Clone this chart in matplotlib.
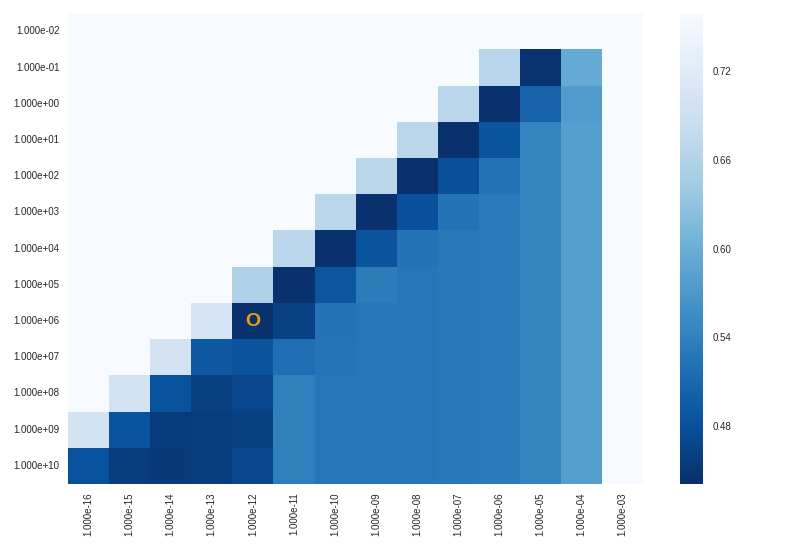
"""Heatmap of score over the two regularisation grids, Blues_r with a marker on the best cell."""

import numpy as np
import seaborn as sns
from matplotlib import pyplot as plt

row_labels = [f"{10.0 ** e:.3e}" for e in range(-2, 11)]
col_labels = [f"{10.0 ** e:.3e}" for e in range(-16, -2)]

# light cells sit at the top of the colour scale
M = 0.759
scores = [
    [M, M, M, M, M, M, M, M, M, M, M, M, M, M],
    [M, M, M, M, M, M, M, M, M, M, 0.664, 0.445, 0.594, M],
    [M, M, M, M, M, M, M, M, M, 0.667, 0.443, 0.505, 0.575, M],
    [M, M, M, M, M, M, M, M, 0.667, 0.443, 0.486, 0.543, 0.578, M],
    [M, M, M, M, M, M, M, 0.667, 0.443, 0.479, 0.524, 0.543, 0.578, M],
    [M, M, M, M, M, M, 0.667, 0.443, 0.480, 0.524, 0.531, 0.543, 0.578, M],
    [M, M, M, M, M, 0.667, 0.443, 0.485, 0.524, 0.530, 0.532, 0.543, 0.578, M],
    [M, M, M, M, 0.656, 0.443, 0.487, 0.533, 0.529, 0.530, 0.532, 0.543, 0.578, M],
    [M, M, M, 0.703, 0.443, 0.463, 0.524, 0.528, 0.529, 0.530, 0.532, 0.543, 0.578, M],
    [M, M, 0.700, 0.490, 0.485, 0.518, 0.525, 0.528, 0.528, 0.530, 0.532, 0.543, 0.578, M],
    [M, 0.700, 0.481, 0.460, 0.467, 0.537, 0.526, 0.528, 0.528, 0.530, 0.532, 0.543, 0.578, M],
    [0.700, 0.482, 0.455, 0.457, 0.460, 0.537, 0.526, 0.528, 0.528, 0.530, 0.532, 0.543, 0.578, M],
    [0.481, 0.456, 0.453, 0.456, 0.466, 0.537, 0.526, 0.528, 0.528, 0.530, 0.532, 0.543, 0.578, M],
]
best_row, best_col = 8, 4
vmin, vmax = 0.441, 0.759
cbar_ticks = [0.48, 0.54, 0.60, 0.66, 0.72]

sns.set_style("white")
plt.rcParams["font.family"] = ["Liberation Sans", "DejaVu Sans"]
plt.rcParams["text.color"] = ".15"
plt.rcParams["xtick.color"] = ".15"
plt.rcParams["ytick.color"] = ".15"

fig = plt.figure(figsize=(8, 5.5), dpi=100)
ax = fig.add_axes([0.085, 0.12, 0.719, 0.856])
cax = fig.add_axes([0.85, 0.12, 0.029, 0.856])

sns.heatmap(np.array(scores), ax=ax, cbar_ax=cax, cmap="Blues_r",
            vmin=vmin, vmax=vmax, xticklabels=col_labels,
            yticklabels=row_labels, cbar_kws={"ticks": cbar_ticks})
ax.text(best_col + 0.5, best_row + 0.5, "O", ha="center", va="center",
        color="#e8a010", fontsize=14, fontweight="bold")

ax.tick_params(axis="both", length=0, labelsize=7, pad=6)
ax.tick_params(axis="x", rotation=90)
ax.tick_params(axis="y", rotation=0)
cax.tick_params(length=0, labelsize=7, pad=7)
cax.set_yticklabels([f"{t:.2f}" for t in cbar_ticks])
for spine in cax.spines.values():
    spine.set_visible(False)

fig.savefig("out.png", dpi=100)
